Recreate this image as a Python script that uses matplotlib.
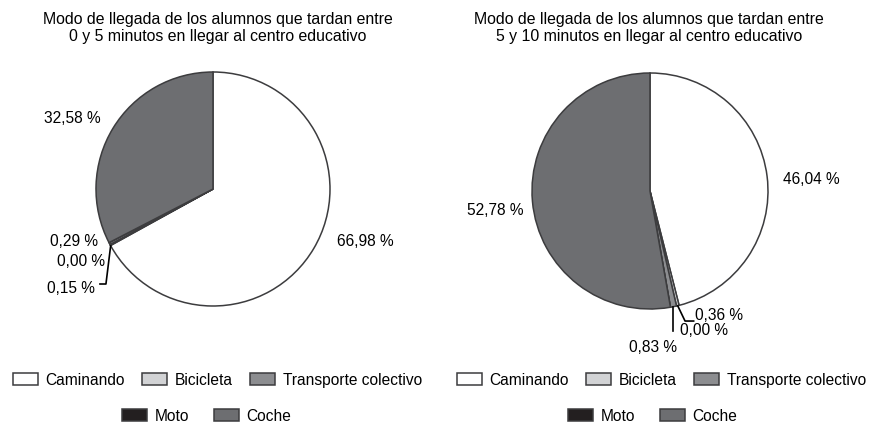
import matplotlib.pyplot as plt
from matplotlib.patches import Patch

plt.rcParams['font.family'] = ['Liberation Sans', 'DejaVu Sans']

categorias = ["Caminando", "Bicicleta", "Transporte colectivo", "Moto", "Coche"]
colores = ["#ffffff", "#d2d3d5", "#8c8d90", "#231f20", "#6d6e71"]
borde = "#3c3c3e"

titulo_1 = "Modo de llegada de los alumnos que tardan entre\n0 y 5 minutos en llegar al centro educativo"
valores_1 = [66.98, 0.15, 0.29, 0.00, 32.58]
titulo_2 = "Modo de llegada de los alumnos que tardan entre\n5 y 10 minutos en llegar al centro educativo"
valores_2 = [46.04, 0.36, 0.83, 0.00, 52.78]

W, H = 877, 427
fig = plt.figure(figsize=(W / 100, H / 100), dpi=100)
fs = 11.2


def etiqueta(v):
    return f"{v:.2f}".replace(".", ",") + " %"


def dibujar_pie(cx, cy, r, valores):
    ax = fig.add_axes([(cx - r) / W, (H - cy - r) / H, 2 * r / W, 2 * r / H])
    ax.pie(valores, colors=colores, startangle=90, counterclock=False, radius=1,
           wedgeprops=dict(edgecolor=borde, linewidth=1.1))
    # pie fija los limites a +-1.25, se corrigen despues
    ax.set_xlim(-1, 1)
    ax.set_ylim(-1, 1)
    ax.set_aspect('equal')
    ax.axis('off')
    return ax


# ---- grafico 1 ----
ax1 = dibujar_pie(213, 190, 117, valores_1)
ax1.text(1.30, -0.44, etiqueta(valores_1[0]), fontsize=fs, ha='center', va='center')
ax1.text(-1.20, 0.615, etiqueta(valores_1[4]), fontsize=fs, ha='center', va='center')
ax1.text(-0.98, -0.444, etiqueta(valores_1[2]), fontsize=fs, ha='right', va='center')
ax1.text(-0.92, -0.615, etiqueta(valores_1[3]), fontsize=fs, ha='right', va='center')
ax1.text(-1.01, -0.846, etiqueta(valores_1[1]), fontsize=fs, ha='right', va='center')
ax1.plot([-0.875, -0.915, -0.966], [-0.487, -0.812, -0.812], color='black', lw=1.2, clip_on=False)

# ---- grafico 2 ----
ax2 = dibujar_pie(650, 192, 118, valores_2)
ax2.text(1.364, 0.11, etiqueta(valores_2[0]), fontsize=fs, ha='center', va='center')
ax2.text(-1.314, -0.153, etiqueta(valores_2[4]), fontsize=fs, ha='center', va='center')
ax2.text(0.385, -1.05, etiqueta(valores_2[1]), fontsize=fs, ha='left', va='center')
ax2.text(0.25, -1.175, etiqueta(valores_2[3]), fontsize=fs, ha='left', va='center')
ax2.text(0.025, -1.314, etiqueta(valores_2[2]), fontsize=fs, ha='center', va='center')
ax2.plot([0.235, 0.297, 0.37], [-0.973, -1.102, -1.102], color='black', lw=1.2, clip_on=False)
ax2.plot([0.192, 0.192], [-0.98, -1.186], color='black', lw=1.2, clip_on=False)

fig.text(218 / W, 1 - 28 / H, titulo_1, fontsize=11.4, ha='center', va='center', linespacing=1.2)
fig.text(649 / W, 1 - 28 / H, titulo_2, fontsize=11.4, ha='center', va='center', linespacing=1.2)

# ---- leyendas ----
handles = [Patch(facecolor=c, edgecolor=borde, linewidth=1.1) for c in colores]
for x1, x2 in [(217.5, 206.5), (661.5, 652.5)]:
    for idx, x, y, esp in [((0, 1, 2), x1, 381, 1.1), ((3, 4), x2, 417, 1.6)]:
        fig.legend([handles[i] for i in idx], [categorias[i] for i in idx],
                   loc='center', bbox_to_anchor=(x / W, 1 - y / H), ncol=len(idx),
                   frameon=False, fontsize=fs, handlelength=1.6, handleheight=0.8,
                   handletextpad=0.5, columnspacing=esp, borderpad=0, borderaxespad=0)

fig.savefig("out.png", dpi=100, facecolor='white')
